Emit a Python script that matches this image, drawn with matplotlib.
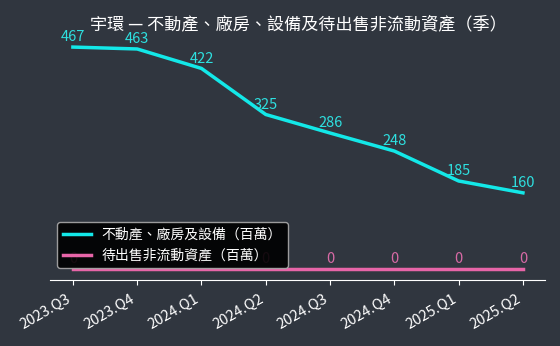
import matplotlib
matplotlib.use('Agg')
import matplotlib.pyplot as plt

plt.rcParams['font.family'] = ['Noto Sans CJK TC', 'DejaVu Sans']

# データ
quarters = ['2023.Q3', '2023.Q4', '2024.Q1', '2024.Q2', '2024.Q3', '2024.Q4', '2025.Q1', '2025.Q2']
ppe = [467, 463, 422, 325, 286, 248, 185, 160]
held_for_sale = [0, 0, 0, 0, 0, 0, 0, 0]

bg = '#30363f'
cyan = '#13e8e8'
pink = '#e765a8'

fig = plt.figure(figsize=(5.6, 3.46), dpi=100, facecolor=bg)
ax = fig.add_axes([0.09, 0.191, 0.884, 0.705], facecolor=bg)

x = list(range(len(quarters)))
ax.plot(x, ppe, color=cyan, lw=2.5, label='不動產、廠房及設備（百萬）')
ax.plot(x, held_for_sale, color=pink, lw=2.5, label='待出售非流動資產（百萬）')

# 数値ラベル
for i, v in enumerate(ppe):
    ax.annotate(str(v), (i, v), xytext=(0, 2), textcoords='offset points',
                ha='center', va='bottom', color='#2ee0e0', fontsize=10.5)
for i, v in enumerate(held_for_sale):
    ax.annotate(str(v), (i, v), xytext=(0, 2), textcoords='offset points',
                ha='center', va='bottom', color='#d86aa6', fontsize=10.5)

ax.set_title('宇環 — 不動產、廠房、設備及待出售非流動資產（季）', color='white', fontsize=12.3, pad=5)

ax.set_xticks(x)
ax.set_xticklabels(quarters, rotation=30, ha='right', color='white', fontsize=10.5)
ax.set_yticks([])
for s in ['top', 'right', 'left']:
    ax.spines[s].set_visible(False)
ax.spines['bottom'].set_color('white')
ax.tick_params(axis='x', colors='white', pad=5)

leg = ax.legend(loc='lower left', facecolor='black', edgecolor='#aaaaaa', fontsize=10,
                framealpha=0.9, bbox_to_anchor=(0.0, 0.02))
for t in leg.get_texts():
    t.set_color('white')

fig.savefig('out.png', dpi=100, facecolor=bg)
